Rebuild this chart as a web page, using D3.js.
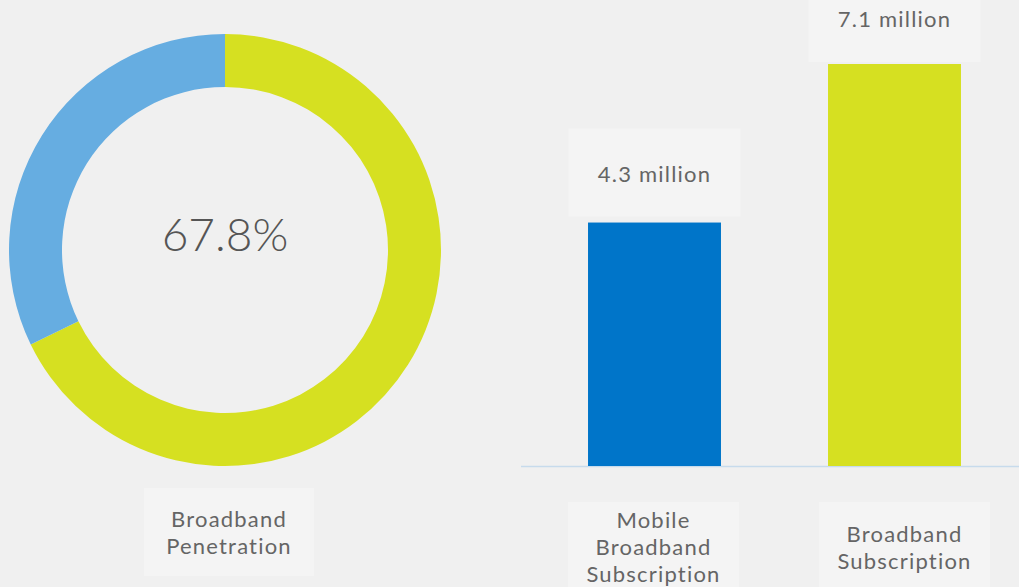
<!DOCTYPE html>
<html><head><meta charset="utf-8">
<script src="https://cdn.jsdelivr.net/npm/d3@7"></script>
<style>
html,body{margin:0;padding:0;background:#f0f0f0;}
svg{display:block;font-family:Lato,"Open Sans",sans-serif;}
</style></head>
<body><svg id="c" width="1019" height="587"></svg>
<script>
// Donut data
const donutLabels = ["Broadband Penetration", "Other"];
const donutValues = [67.8, 32.2];
const donutColors = ["#d6e021", "#66ade1"];
const donutCenterText = "67.8%";
const donutCaption = ["Broadband", "Penetration"];

// Bar data
const barCategories = ["Mobile Broadband Subscription", "Broadband Subscription"];
const barValues = [4.3, 7.1];
const barValueLabels = ["4.3 million", "7.1 million"];
const barCatLines = [["Mobile", "Broadband", "Subscription"], ["Broadband", "Subscription"]];
const barColors = ["#0075c9", "#d6e021"];

const svg = d3.select("#c");
const textColor = "#656565";
const boxFill = "#f4f4f4";
const fs = 22, ls = 1.2, fw = 400;

// ---- Donut ----
const cx = 225, cy = 250, rOuter = 216, rInner = 163;
const pie = d3.pie().sort(null).value(d => d);
const arc = d3.arc().innerRadius(rInner).outerRadius(rOuter);
const g1 = svg.append("g").attr("transform", `translate(${cx},${cy})`);
g1.selectAll("path").data(pie(donutValues)).join("path")
  .attr("d", arc).attr("fill", (d, i) => donutColors[i]);
g1.append("text").attr("text-anchor", "middle")
  .attr("y", 1)
  .attr("font-size", 46).attr("font-weight", 300).attr("fill", "#555")
  .text(donutCenterText);

// caption box
svg.append("rect").attr("x", 144).attr("y", 488).attr("width", 170).attr("height", 88).attr("fill", boxFill);
const cap = svg.append("text").attr("text-anchor", "middle").attr("font-size", fs).attr("font-weight", fw)
  .attr("fill", textColor).attr("letter-spacing", ls);
donutCaption.forEach((t, i) => cap.append("tspan").attr("x", 229).attr("y", 527 + i * 27).text(t));

// ---- Bars ----
const y = d3.scaleLinear().domain([0, 7.1]).range([466, 64]);
const x = d3.scaleBand().domain(barCategories).range([534.5, 1014.5]).paddingInner(0.446).paddingOuter(0.223);

// baseline
svg.append("line").attr("x1", 521).attr("x2", 1019).attr("y1", y(0) + 0.5).attr("y2", y(0) + 0.5)
  .attr("stroke", "#c7dbec").attr("stroke-width", 1.5);

svg.selectAll("rect.bar").data(barCategories).join("rect").attr("class", "bar")
  .attr("x", d => x(d)).attr("width", x.bandwidth())
  .attr("y", (d, i) => y(barValues[i])).attr("height", (d, i) => y(0) - y(barValues[i]))
  .attr("fill", (d, i) => barColors[i]);

// value label boxes (kept from running off the top edge)
barCategories.forEach((c, i) => {
  const mid = x(c) + x.bandwidth() / 2;
  const base = Math.max(y(barValues[i]) - 41, 27);
  svg.append("rect").attr("x", mid - 86).attr("y", base - 53).attr("width", 172).attr("height", 88).attr("fill", boxFill);
  svg.append("text").attr("x", mid).attr("y", base).attr("text-anchor", "middle")
    .attr("font-size", fs).attr("font-weight", fw).attr("letter-spacing", ls)
    .attr("fill", textColor).text(barValueLabels[i]);
});

// category label boxes
const catBoxX = [568, 819];
barCategories.forEach((c, i) => {
  const lines = barCatLines[i];
  const bx = catBoxX[i];
  svg.append("rect").attr("x", bx).attr("y", 502).attr("width", 171).attr("height", 100).attr("fill", boxFill);
  const t = svg.append("text").attr("text-anchor", "middle").attr("font-size", fs).attr("font-weight", fw)
    .attr("letter-spacing", ls).attr("fill", textColor);
  const startY = lines.length === 3 ? 528 : 542;
  lines.forEach((l, j) => t.append("tspan").attr("x", bx + 85.5).attr("y", startY + j * 27).text(l));
});
</script></body></html>
